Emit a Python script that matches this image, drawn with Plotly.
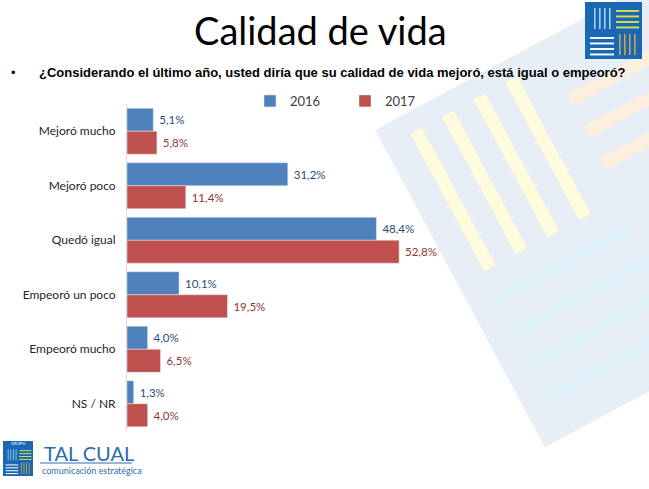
import plotly.graph_objects as go

categorias = ["Mejoró mucho", "Mejoró poco", "Quedó igual", "Empeoró un poco", "Empeoró mucho", "NS / NR"]
valores_2016 = [5.1, 31.2, 48.4, 10.1, 4.0, 1.3]
valores_2017 = [5.8, 11.4, 52.8, 19.5, 6.5, 4.0]
series = ["2016", "2017"]

W, H = 649, 489
L, R, T, B = 127, 462, 104, 431  # plot area in pixels


def etiqueta(v):
    return "\u00a0" + f"{v:.1f}".replace(".", ",") + "%"


def pp(x, y):
    # pixel -> paper
    return (x - L) / (R - L), (B - y) / (B - T)


def path(pts):
    s = ""
    for i, (x, y) in enumerate(pts):
        a, b = pp(x, y)
        s += ("M" if i == 0 else "L") + f"{a:.4f},{b:.4f} "
    return s + "Z"


shapes = []

# faint rotated watermark of the logo
TL = (375, 130)
e = (0.881, -0.472)
d = (0.472, 0.881)


def loc(u, v):
    return TL[0] + u * e[0] + v * d[0], TL[1] + u * e[1] + v * d[1]


def wm(u0, u1, v0, v1, color):
    pts = [loc(u0, v0), loc(u1, v0), loc(u1, v1), loc(u0, v1)]
    shapes.append(dict(type="path", path=path(pts), xref="paper", yref="paper",
                       fillcolor=color, line=dict(width=0), layer="below"))


wm(0, 360, 0, 360, "#e8eef6")
for uc in [36, 72, 108, 144]:
    wm(uc - 6.5, uc + 6.5, 20, 176, "#fdfbdb")
for vc in [66, 102, 138]:
    wm(186, 360, vc - 6.5, vc + 6.5, "#fdefe0")
for vc in [207, 244, 281, 318]:
    wm(25, 181, vc - 6.5, vc + 6.5, "#e1f2fb")


def rect(x0, y0, x1, y1, color):
    a0, b0 = pp(x0, y1)
    a1, b1 = pp(x1, y0)
    shapes.append(dict(type="rect", x0=a0, y0=b0, x1=a1, y1=b1, xref="paper", yref="paper",
                       fillcolor=color, line=dict(width=0), layer="above"))


def logo(x0, y0, s):
    # s = side in pixels
    rect(x0, y0, x0 + s, y0 + s, "#1a68b4")
    k = s / 57.0
    lw = 1.6 * k
    for i in range(4):
        x = x0 + (9 + i * 5) * k
        rect(x, y0 + 6 * k, x + lw, y0 + 27 * k, "#9fd3f0")
    for i in range(4):
        y = y0 + (8 + i * 5.5) * k
        rect(x0 + 31 * k, y, x0 + 54 * k, y + lw * 1.2, "#d6df4a")
    for i in range(4):
        y = y0 + (35 + i * 5.5) * k
        rect(x0 + 5 * k, y, x0 + 29 * k, y + lw * 1.2, "#ffffff")
    for i in range(4):
        x = x0 + (34 + i * 5) * k
        rect(x, y0 + 32 * k, x + lw, y0 + 53 * k, "#c9a547")


logo(585, 2, 57)
rect(3, 441, 33, 446, "#1a68b4")
logo(3, 446, 30)
a0, b0 = pp(40, 463)
a1, b1 = pp(132, 463)
shapes.append(dict(type="line", x0=a0, y0=b0, x1=a1, y1=b1, xref="paper", yref="paper",
                   line=dict(color="#2a6cb0", width=1)))


def nota(texto, x, y, fuente, xanchor="left"):
    a, b = pp(x, y)
    return dict(text=texto, x=a, y=b, xref="paper", yref="paper", font=fuente,
                showarrow=False, xanchor=xanchor, yanchor="middle")


fig = go.Figure()
fig.add_trace(go.Bar(y=categorias, x=valores_2016, name=series[0], orientation="h",
                     marker_color="#4f81bd", text=[etiqueta(v) for v in valores_2016],
                     textposition="outside", cliponaxis=False,
                     textfont=dict(family="Lato", size=11.5, color="#2c4d75")))
fig.add_trace(go.Bar(y=categorias, x=valores_2017, name=series[1], orientation="h",
                     marker_color="#c0504d", text=[etiqueta(v) for v in valores_2017],
                     textposition="outside", cliponaxis=False,
                     textfont=dict(family="Lato", size=11.5, color="#943634")))

ann = [
    nota("Calidad de vida", 320, 30, dict(family="Lato", size=38, color="#000000"), "center"),
    nota("•", 13, 72, dict(family="Liberation Sans", size=13, color="#000000"), "center"),
    nota("<b>¿Considerando el último año, usted diría que su calidad de vida mejoró, está igual o empeoró?</b>",
         37, 72, dict(family="Liberation Sans", size=13, color="#000000")),
    nota("GRUPO", 18, 443.5, dict(family="DejaVu Sans", size=4, color="#ffffff"), "center"),
    nota("TAL CUAL", 42, 453, dict(family="Lato", size=20, color="#2a6cb0")),
    nota("comunicación estratégica", 40, 470, dict(family="Lato", size=9, color="#2a6cb0")),
]

fig.update_layout(
    width=W, height=H,
    margin=dict(l=L, r=W - R, t=T, b=H - B, autoexpand=False),
    paper_bgcolor="#ffffff", plot_bgcolor="rgba(0,0,0,0)",
    barmode="group", bargap=0.156, bargroupgap=0,
    font=dict(family="Lato", color="#404040"),
    legend=dict(orientation="h", xref="container", yref="container",
                x=250 / W, y=1 - 101 / H, xanchor="left", yanchor="middle",
                font=dict(family="Lato", size=13, color="#404040"),
                bgcolor="rgba(0,0,0,0)", entrywidth=50, itemclick=False),
    xaxis=dict(range=[0, 65], visible=False, fixedrange=True),
    yaxis=dict(autorange="reversed", showline=True, linecolor="#d9d9d9", linewidth=1,
               showgrid=False, ticks="", ticklabelstandoff=8,
               tickfont=dict(family="Lato", size=12, color="#262626")),
    shapes=shapes, annotations=ann,
)

fig.write_html("out.html", config={"displayModeBar": False},
               post_script="document.body.style.margin='0px';")
